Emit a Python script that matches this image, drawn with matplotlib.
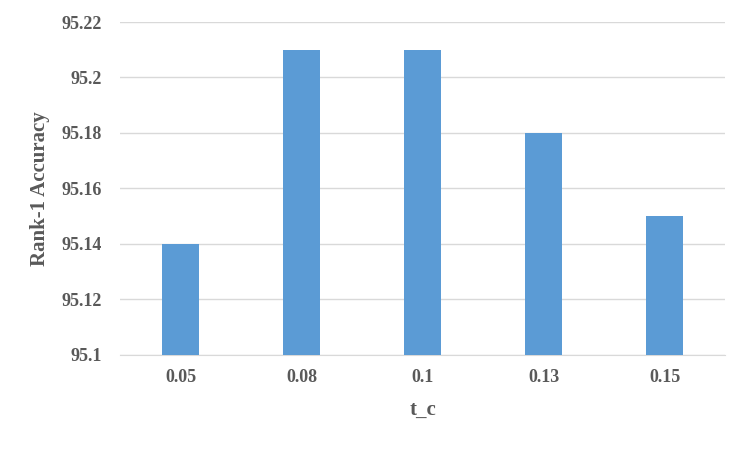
import matplotlib.pyplot as plt

categories = ["0.05", "0.08", "0.1", "0.13", "0.15"]
accuracy = [95.14, 95.21, 95.21, 95.18, 95.15]
y_ticks = [95.1, 95.12, 95.14, 95.16, 95.18, 95.2, 95.22]
y_tick_labels = ["95.1", "95.12", "95.14", "95.16", "95.18", "95.2", "95.22"]

plt.rcParams['font.family'] = ['Liberation Serif', 'DejaVu Serif']
plt.rcParams['font.weight'] = 'bold'

fig = plt.figure(figsize=(7.5, 4.49), dpi=100)
ax = fig.add_axes([0.16, 0.2094, 0.8067, 0.7416])

x = range(len(categories))
ax.bar(x, [v - 95.1 for v in accuracy], bottom=95.1, width=0.31,
       color='#5B9BD5', zorder=3)

ax.set_xlim(-0.5, len(categories) - 0.5)
ax.set_ylim(95.1, 95.22)
ax.set_yticks(y_ticks)
ax.set_yticklabels(y_tick_labels)
ax.set_xticks(list(x))
ax.set_xticklabels(categories)
ax.tick_params(axis='both', length=0, labelsize=13, colors='#595959')
ax.tick_params(axis='y', pad=13)
ax.tick_params(axis='x', pad=10)
for lbl in ax.get_xticklabels() + ax.get_yticklabels():
    lbl.set_fontweight('bold')

ax.grid(axis='y', color='#D9D9D9', linewidth=1, zorder=0)
for side in ['left', 'right', 'top']:
    ax.spines[side].set_visible(False)
ax.spines['bottom'].set_color('#D9D9D9')

ax.set_xlabel('t_c', fontsize=15, fontweight='bold', color='#595959', labelpad=10)
ax.set_ylabel('Rank-1 Accuracy', fontsize=15, fontweight='bold', color='#595959', labelpad=8)

fig.savefig('out.png', dpi=100)
